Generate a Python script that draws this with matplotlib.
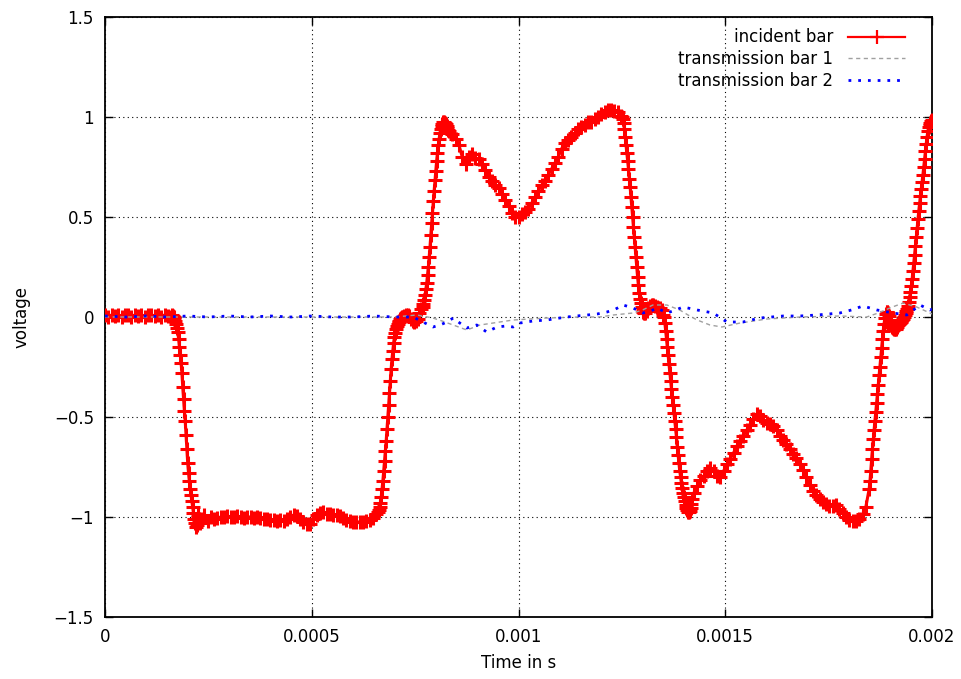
import numpy as np
import matplotlib
matplotlib.use("Agg")
import matplotlib.pyplot as plt

plt.rcParams['font.family'] = ['DejaVu Sans']

# ---------------------------------------------------------------------------
# Incident bar signal, stored as uniformly sampled segments:
# (first sample time in microseconds, last sample time in microseconds, volts)
# ---------------------------------------------------------------------------
inc_pre = (0, 160, [0.01, 0.0, 0.01, 0.005, 0.01, 0.0, 0.01, 0.01, 0.0, 0.01, 0.005,
                    0.01, 0.0, 0.01, 0.01, 0.005, 0.01, 0.0, 0.01, 0.005, 0.0])

inc_fall_1 = (162, 230, [0.01, 0.005, 0.0, -0.01, -0.02, -0.035, -0.055, -0.075, -0.11,
                         -0.15, -0.19, -0.23, -0.28, -0.35, -0.41, -0.47, -0.52, -0.59,
                         -0.66, -0.73, -0.78, -0.82, -0.86, -0.89, -0.92, -0.95, -0.98,
                         -1.01, -1.03, -1.05, -1.04, -1.0, -0.99, -1.02, -1.03])

inc_low = (232, 656, [-1.01, -0.99, -1.02, -1.0, -1.01, -1.005, -1.0, -1.0, -0.995, -1.0,
                      -1.0, -0.995, -1.0, -1.005, -1.0, -1.0, -1.005, -1.0, -1.005, -1.01,
                      -1.01, -1.015, -1.015, -1.02, -1.015, -1.02, -1.01, -1.0, -0.99,
                      -0.995, -1.01, -1.025, -1.035, -1.035, -1.01, -0.99, -0.98, -0.975,
                      -0.985, -0.985, -0.99, -0.99, -0.995, -1.005, -1.015, -1.02, -1.025,
                      -1.025, -1.025, -1.025, -1.02, -1.015, -1.005, -0.985])

inc_rise_1 = (660, 718, [-0.975, -0.965, -0.95, -0.93, -0.9, -0.86, -0.82, -0.77, -0.72,
                         -0.67, -0.62, -0.56, -0.5, -0.44, -0.38, -0.32, -0.26, -0.21,
                         -0.17, -0.13, -0.1, -0.08, -0.06, -0.045, -0.035, -0.025, -0.02,
                         -0.01, -0.005, 0.0])

inc_step = (720, 764, [0.0, 0.005, 0.01, 0.01, 0.005, -0.01, -0.02, -0.025, -0.02, -0.01,
                       0.02, 0.04])

inc_rise_2 = (768, 830, [0.05, 0.065, 0.085, 0.11, 0.14, 0.17, 0.21, 0.25, 0.3, 0.35, 0.41,
                         0.47, 0.52, 0.58, 0.63, 0.685, 0.73, 0.78, 0.82, 0.86, 0.89, 0.92,
                         0.94, 0.955, 0.965, 0.975, 0.975, 0.97, 0.965, 0.955, 0.945, 0.935])

inc_high = (832, 1248, [0.93, 0.915, 0.89, 0.86, 0.8, 0.765, 0.8, 0.815, 0.795, 0.79, 0.765,
                        0.735, 0.7, 0.68, 0.66, 0.645, 0.615, 0.585, 0.555, 0.52, 0.5, 0.5,
                        0.515, 0.525, 0.54, 0.57, 0.6, 0.63, 0.66, 0.68, 0.71, 0.74, 0.77,
                        0.8, 0.84, 0.87, 0.885, 0.9, 0.92, 0.94, 0.95, 0.96, 0.975, 0.975,
                        0.99, 1.0, 1.015, 1.025, 1.035, 1.035, 1.03, 1.025, 1.005])

inc_fall_2 = (1250, 1306, [1.0, 0.99, 0.97, 0.94, 0.9, 0.86, 0.82, 0.78, 0.74, 0.69, 0.65,
                           0.6, 0.55, 0.5, 0.45, 0.4, 0.35, 0.3, 0.25, 0.2, 0.16, 0.12,
                           0.09, 0.07, 0.05, 0.035, 0.025, 0.02, 0.02])

inc_shelf = (1310, 1350, [0.03, 0.045, 0.055, 0.06, 0.06, 0.055, 0.05, 0.045, 0.045,
                          0.035, 0.01])

inc_fall_3 = (1352, 1420, [0.0, -0.03, -0.07, -0.11, -0.15, -0.19, -0.235, -0.28, -0.32,
                           -0.36, -0.4, -0.44, -0.48, -0.52, -0.56, -0.6, -0.65, -0.69,
                           -0.73, -0.77, -0.8, -0.83, -0.855, -0.88, -0.9, -0.92, -0.94,
                           -0.955, -0.965, -0.975, -0.975, -0.97, -0.955, -0.935, -0.91])

inc_trough = (1424, 1848, [-0.88, -0.845, -0.815, -0.795, -0.77, -0.755, -0.77, -0.795,
                           -0.8, -0.77, -0.735, -0.71, -0.68, -0.645, -0.62, -0.595, -0.565,
                           -0.54, -0.51, -0.485, -0.495, -0.515, -0.53, -0.535, -0.545,
                           -0.565, -0.595, -0.615, -0.635, -0.66, -0.685, -0.705, -0.735,
                           -0.765, -0.8, -0.84, -0.87, -0.89, -0.91, -0.925, -0.935, -0.945,
                           -0.945, -0.94, -0.96, -0.98, -1.0, -1.015, -1.02, -1.02, -1.01,
                           -0.985, -0.95, -0.86])

inc_rise_3 = (1850, 1898, [-0.82, -0.77, -0.71, -0.66, -0.61, -0.565, -0.52, -0.475, -0.43,
                           -0.385, -0.34, -0.29, -0.25, -0.2, -0.155, -0.11, -0.07, -0.035,
                           -0.005, 0.015, 0.025, 0.025, 0.02, 0.005, -0.015])

inc_rise_4 = (1900, 2000, [-0.03, -0.04, -0.05, -0.055, -0.06, -0.06, -0.06, -0.055, -0.05,
                           -0.04, -0.035, -0.03, -0.025, -0.02, -0.015, -0.01, 0.0, 0.01,
                           0.02, 0.03, 0.04, 0.055, 0.075, 0.1, 0.125, 0.155, 0.19, 0.23,
                           0.27, 0.31, 0.355, 0.4, 0.445, 0.49, 0.53, 0.57, 0.605, 0.64,
                           0.675, 0.71, 0.75, 0.79, 0.83, 0.865, 0.9, 0.93, 0.95, 0.96,
                           0.97, 0.98, 0.985])

incident_segments = [inc_pre, inc_fall_1, inc_low, inc_rise_1, inc_step, inc_rise_2,
                     inc_high, inc_fall_2, inc_shelf, inc_fall_3, inc_trough,
                     inc_rise_3, inc_rise_4]

# Transmission bar 1 (microseconds, volts)
tb1_t = [0, 100, 200, 300, 400, 500, 600, 700, 754, 793, 815, 842, 875, 907, 939, 987,
         1069, 1149, 1197, 1229, 1277, 1300, 1325, 1342, 1359, 1390, 1410, 1432, 1463,
         1492, 1536, 1601, 1681, 1777, 1842, 1870, 1898, 1930, 1963, 1995, 2000]
tb1_v = [0.0, 0.0, 0.0, 0.0, 0.0, 0.0, 0.0, 0.0, 0.01, -0.005, -0.02, -0.04, -0.065,
         -0.04, -0.03, -0.015, -0.005, 0.0, 0.0, 0.01, 0.02, 0.035, 0.06, 0.06, 0.06,
         0.035, 0.01, -0.015, -0.04, -0.05, -0.03, -0.01, 0.0, 0.005, 0.0, 0.02, 0.045,
         0.07, 0.05, 0.02, 0.015]

# Transmission bar 2 (microseconds, volts)
tb2_t = [0, 50, 100, 150, 200, 250, 300, 350, 400, 450, 500, 550, 600, 650, 700, 745,
         769, 793, 810, 827, 842, 858, 875, 899, 923, 948, 970, 987, 1004, 1035, 1069,
         1090, 1117, 1140, 1166, 1190, 1214, 1235, 1253, 1277, 1301, 1320, 1335, 1359,
         1380, 1398, 1432, 1471, 1504, 1543, 1584, 1640, 1680, 1722, 1777, 1805, 1833,
         1867, 1906, 1939, 1955, 1971, 1995, 2000]
tb2_v = [0.005, 0.0, 0.005, 0.0, 0.005, 0.0, 0.005, 0.0, 0.005, 0.0, 0.005, 0.0, 0.0,
         0.005, 0.0, 0.0, -0.025, -0.05, -0.04, -0.025, -0.005, -0.03, -0.055, -0.04,
         -0.075, -0.05, -0.045, -0.05, -0.03, -0.02, -0.015, -0.008, 0.0, 0.005, 0.01,
         0.015, 0.025, 0.04, 0.06, 0.045, 0.02, 0.03, 0.045, 0.02, 0.035, 0.05, 0.035,
         0.02, -0.025, -0.025, -0.005, 0.005, 0.005, 0.01, 0.02, 0.035, 0.055, 0.035,
         0.02, 0.01, 0.035, 0.06, 0.035, 0.04]

# Axis ticks and labels
x_ticks = [0, 0.0005, 0.001, 0.0015, 0.002]
x_tick_labels = ["0", "0.0005", "0.001", "0.0015", "0.002"]
y_ticks = [-1.5, -1, -0.5, 0, 0.5, 1, 1.5]
y_tick_labels = ["\u22121.5", "\u22121", "\u22120.5", "0", "0.5", "1", "1.5"]

series_labels = ["incident bar", "transmission bar 1", "transmission bar 2"]


def join_segments(segments):
    times, volts = [], []
    for t_start, t_end, values in segments:
        times.append(np.linspace(t_start, t_end, len(values)))
        volts.append(np.asarray(values, dtype=float))
    return np.concatenate(times) * 1e-6, np.concatenate(volts)


inc_t, inc_v = join_segments(incident_segments)

fig = plt.figure(figsize=(9.61, 6.79), dpi=100)
ax = fig.add_axes([105 / 961, 1 - 617 / 679, 827 / 961, 600 / 679])

ax.plot(inc_t, inc_v, color="#ff0000", lw=2.2, marker="+", markersize=9.5,
        markeredgewidth=2.2, label=series_labels[0], zorder=3)
ax.plot(np.asarray(tb1_t) * 1e-6, tb1_v, color="#a0a0a0", lw=1.0,
        linestyle=(0, (3, 2.5)), label=series_labels[1], zorder=4)
ax.plot(np.asarray(tb2_t) * 1e-6, tb2_v, color="#0000ff", lw=2.0,
        linestyle=(0, (1, 2.5)), label=series_labels[2], zorder=5)

ax.set_xlim(0, 0.002)
ax.set_ylim(-1.5, 1.5)
ax.set_xticks(x_ticks)
ax.set_xticklabels(x_tick_labels)
ax.set_yticks(y_ticks)
ax.set_yticklabels(y_tick_labels)

ax.grid(True, color="black", linestyle=(0, (1, 3)), linewidth=0.8)
ax.set_axisbelow(True)

ax.tick_params(axis="both", direction="in", length=6, width=1, labelsize=12,
               top=True, right=True, colors="black")
ax.tick_params(axis="x", pad=8)
ax.tick_params(axis="y", pad=8)
for sp in ax.spines.values():
    sp.set_linewidth(1.3)

ax.set_xlabel("Time in s", fontsize=12, labelpad=6)
ax.set_ylabel("voltage", fontsize=12, labelpad=17)

leg = ax.legend(loc="upper right", bbox_to_anchor=(0.9674, 0.981), frameon=False,
                fontsize=12, markerfirst=False, handlelength=3.4, handletextpad=0.9,
                labelspacing=0.22, borderpad=0, borderaxespad=0, numpoints=1)
leg_handle = leg.get_lines()[0]
leg_handle.set_linewidth(1.6)
leg_handle.set_markeredgewidth(1.6)

fig.savefig("out.png", dpi=100)
